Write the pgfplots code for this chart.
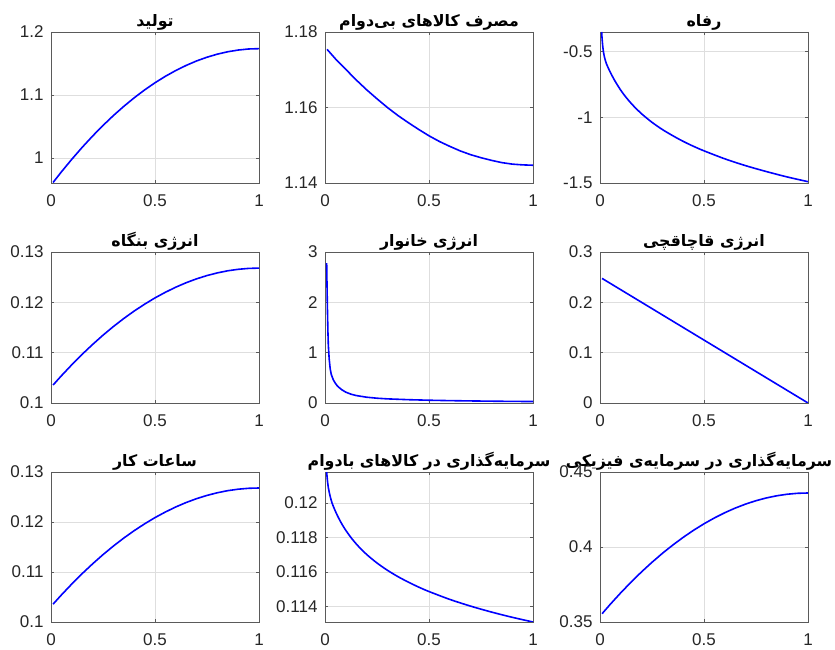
\documentclass[border=0pt]{standalone}
\usepackage{fontspec}
\setmainfont{Liberation Sans}
\newfontfamily\fa[Script=Arabic]{DejaVu Sans}
\TeXXeTstate=1
\usepackage{pgfplots}
\pgfplotsset{compat=1.18}

\definecolor{axgray}{RGB}{90,90,90}
\definecolor{gridgray}{RGB}{222,222,222}
\definecolor{ticktext}{RGB}{38,38,38}

\pgfplotsset{
  mat/.style={
    scale only axis, width=208pt, height=151pt, anchor=south west,
    xmin=0, xmax=1, xtick={0,0.5,1}, xticklabels={0,0.5,1},
    tick align=inside, major tick length=3pt,
    axis line style={axgray, line width=0.8pt},
    tick style={axgray, line width=0.6pt},
    grid=major, major grid style={gridgray, line width=0.6pt},
    ticklabel style={font=\fontsize{17}{19}\selectfont, text=ticktext},
    xticklabel style={yshift=-8pt},
    yticklabel style={xshift=-4pt},
    title style={font=\fa\bfseries\fontsize{15.8}{18}\selectfont,
      at={(0.5,1)}, anchor=south, inner sep=0pt, yshift=-5pt},
    every axis plot/.append style={blue, line width=1.6pt, no marks},
  },
}

\begin{document}
\begin{tikzpicture}
\useasboundingbox (0,0) rectangle (835pt,650pt);

% row 1
\begin{axis}[mat, at={(51pt,467pt)}, title={\beginR تولید\endR},
  ymin=0.96, ymax=1.2, ytick={1,1.1,1.2}, yticklabels={1,1.1,1.2}]
\addplot coordinates {
(0.01,0.9608)(0.05,0.9777)(0.1,0.9977)(0.15,1.0167)(0.2,1.0346)(0.25,1.0514)
(0.3,1.0672)(0.35,1.0818)(0.4,1.0954)(0.45,1.1079)(0.5,1.1193)(0.55,1.1296)
(0.6,1.1388)(0.65,1.1469)(0.7,1.1540)(0.75,1.1599)(0.8,1.1648)(0.85,1.1686)
(0.9,1.1713)(0.95,1.1730)(1,1.1735)};
\end{axis}

\begin{axis}[mat, at={(325pt,467pt)}, title={\beginR مصرف کالاهای بی^^^^200cدوام\endR},
  ymin=1.14, ymax=1.18, ytick={1.14,1.16,1.18}, yticklabels={1.14,1.16,1.18}]
\addplot coordinates {
(0.01,1.1754)(0.05,1.1729)(0.1,1.1701)(0.15,1.1673)(0.2,1.1647)(0.25,1.1623)
(0.3,1.1600)(0.35,1.1579)(0.4,1.1560)(0.45,1.1542)(0.5,1.1525)(0.55,1.1510)
(0.6,1.1497)(0.65,1.1485)(0.7,1.1475)(0.75,1.1467)(0.8,1.1460)(0.85,1.1454)
(0.9,1.1450)(0.95,1.1448)(1,1.1447)};
\end{axis}

\begin{axis}[mat, at={(600pt,467pt)}, title={\beginR رفاه\endR},
  ymin=-1.5, ymax=-0.35, ytick={-1.5,-1,-0.5}, yticklabels={-1.5,-1,-0.5}]
\addplot+[smooth] coordinates {
(0.008,-0.35)(0.010,-0.40)(0.013,-0.455)(0.017,-0.505)(0.022,-0.545)(0.03,-0.588)
(0.04,-0.625)(0.05,-0.658)(0.07,-0.718)(0.1,-0.794)(0.13,-0.857)(0.16,-0.911)
(0.2,-0.973)(0.25,-1.038)(0.3,-1.093)(0.35,-1.140)(0.4,-1.183)(0.45,-1.221)
(0.5,-1.255)(0.6,-1.316)(0.7,-1.368)(0.8,-1.413)(0.9,-1.454)(1,-1.490)};
\end{axis}

% row 2
\begin{axis}[mat, at={(51pt,247pt)}, title={\beginR انرژی بنگاه\endR},
  ymin=0.1, ymax=0.13, ytick={0.1,0.11,0.12,0.13}, yticklabels={0.1,0.11,0.12,0.13}]
\addplot coordinates {
(0.01,0.10357)(0.05,0.10541)(0.1,0.10760)(0.15,0.10968)(0.2,0.11163)(0.25,0.11347)
(0.3,0.11519)(0.35,0.11679)(0.4,0.11827)(0.45,0.11963)(0.5,0.12088)(0.55,0.12200)
(0.6,0.12301)(0.65,0.12390)(0.7,0.12467)(0.75,0.12532)(0.8,0.12585)(0.85,0.12627)
(0.9,0.12656)(0.95,0.12674)(1,0.12680)};
\end{axis}

\begin{axis}[mat, at={(325pt,247pt)}, title={\beginR انرژی خانوار\endR},
  ymin=0, ymax=3, ytick={0,1,2,3}, yticklabels={0,1,2,3}]
\addplot coordinates {
(0.008,2.78)(0.010,2.25)(0.012,1.80)(0.014,1.42)(0.016,1.15)(0.02,0.88)
(0.025,0.68)(0.03,0.57)(0.04,0.46)(0.05,0.39)(0.06,0.335)(0.08,0.265)
(0.1,0.215)(0.125,0.175)(0.15,0.148)(0.2,0.115)(0.25,0.095)(0.3,0.082)
(0.4,0.066)(0.5,0.055)(0.6,0.047)(0.7,0.041)(0.8,0.036)(0.9,0.032)(1,0.029)};
\end{axis}

\begin{axis}[mat, at={(600pt,247pt)}, title={\beginR انرژی قاچاقچی\endR},
  ymin=0, ymax=0.3, ytick={0,0.1,0.2,0.3}, yticklabels={0,0.1,0.2,0.3}]
\addplot coordinates {(0.01,0.2475)(1,0)};
\end{axis}

% row 3
\begin{axis}[mat, at={(51pt,28pt)}, height=150pt, title={\beginR ساعات کار\endR},
  ymin=0.1, ymax=0.13, ytick={0.1,0.11,0.12,0.13}, yticklabels={0.1,0.11,0.12,0.13}]
\addplot coordinates {
(0.01,0.10357)(0.05,0.10541)(0.1,0.10760)(0.15,0.10968)(0.2,0.11163)(0.25,0.11347)
(0.3,0.11519)(0.35,0.11679)(0.4,0.11827)(0.45,0.11963)(0.5,0.12088)(0.55,0.12200)
(0.6,0.12301)(0.65,0.12390)(0.7,0.12467)(0.75,0.12532)(0.8,0.12585)(0.85,0.12627)
(0.9,0.12656)(0.95,0.12674)(1,0.12680)};
\end{axis}

\begin{axis}[mat, at={(325pt,28pt)}, height=150pt,
  title={\beginR سرمایه^^^^200cگذاری در کالاهای بادوام\endR},
  ymin=0.1131, ymax=0.1218, ytick={0.114,0.116,0.118,0.12},
  yticklabels={0.114,0.116,0.118,0.12}]
\addplot+[smooth] coordinates {
(0.008,0.1218)(0.011,0.12138)(0.016,0.12090)(0.025,0.12038)(0.034,0.12000)
(0.045,0.119664)(0.06,0.119263)(0.08,0.118806)(0.1,0.118416)(0.13,0.117918)
(0.16,0.117498)(0.2,0.117020)(0.25,0.116522)(0.3,0.116101)(0.35,0.115736)
(0.4,0.115416)(0.45,0.115126)(0.5,0.114867)(0.6,0.114410)(0.7,0.114020)
(0.8,0.113678)(0.9,0.113373)(1,0.113100)};
\end{axis}

\begin{axis}[mat, at={(600pt,28pt)}, height=150pt,
  title={\beginR سرمایه^^^^200cگذاری در سرمایه^^^^200cی فیزیکی\endR},
  title style={xshift=-5pt},
  ymin=0.35, ymax=0.45, ytick={0.35,0.4,0.45}, yticklabels={0.35,0.4,0.45}]
\addplot coordinates {
(0.01,0.35553)(0.05,0.36191)(0.1,0.36950)(0.15,0.37668)(0.2,0.38346)(0.25,0.38982)
(0.3,0.39577)(0.35,0.40131)(0.4,0.40644)(0.45,0.41117)(0.5,0.41548)(0.55,0.41937)
(0.6,0.42286)(0.65,0.42594)(0.7,0.42861)(0.75,0.43087)(0.8,0.43272)(0.85,0.43415)
(0.9,0.43518)(0.95,0.43580)(1,0.43600)};
\end{axis}
\end{tikzpicture}
\end{document}
